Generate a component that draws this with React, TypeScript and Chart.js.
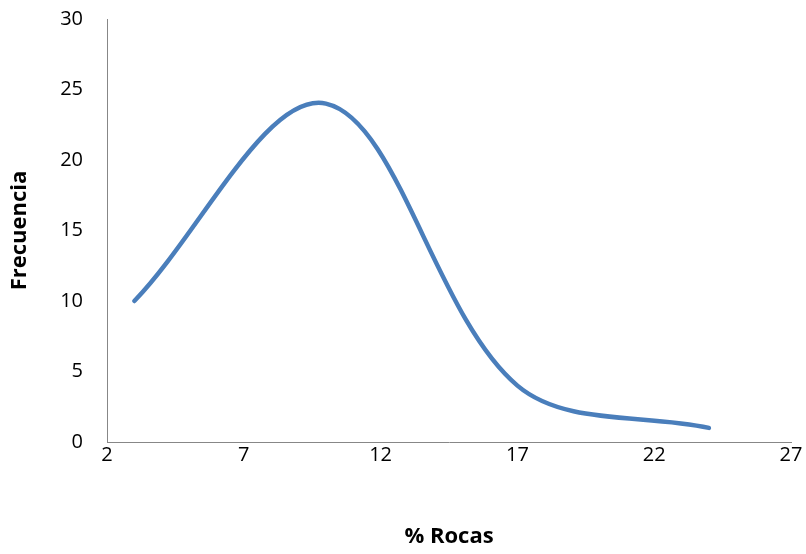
import React, { useEffect, useRef } from "react";
import { Chart, registerables } from "chart.js";

Chart.register(...registerables);

// Rock percentage class marks (class width 7) and their frequencies
const rocasPct = [3, 10, 17, 24];
const frecuencia = [10, 24, 4, 1];

const xTicks = { min: 2, max: 27, step: 5 };
const yTicks = { min: 0, max: 30, step: 5 };

const FONT = "'Open Sans', 'Noto Sans', sans-serif";
const AXIS_GREY = "#878787";

export default function App() {
  const canvasRef = useRef<HTMLCanvasElement | null>(null);

  useEffect(() => {
    document.body.style.margin = "0";
    const canvas = canvasRef.current;
    if (!canvas) return;

    const points = rocasPct.map((x, i) => ({ x, y: frecuencia[i] }));

    const chart = new Chart(canvas, {
      type: "scatter",
      data: {
        datasets: [
          {
            data: points,
            showLine: true,
            borderColor: "#4A7EBB",
            backgroundColor: "#4A7EBB",
            borderWidth: 4.5,
            borderCapStyle: "round",
            borderJoinStyle: "round",
            pointRadius: 0,
            pointHoverRadius: 0,
            tension: 0.34,
            clip: false,
          },
        ],
      },
      options: {
        animation: false,
        responsive: false,
        events: [],
        layout: { padding: { left: 0, right: 15, top: 19, bottom: 0 } },
        plugins: {
          legend: { display: false },
          tooltip: { enabled: false },
        },
        scales: {
          x: {
            type: "linear",
            min: xTicks.min,
            max: xTicks.max,
            grid: { display: false, drawTicks: false },
            border: { display: true, color: AXIS_GREY, width: 1 },
            ticks: {
              stepSize: xTicks.step,
              padding: 1,
              color: "#000",
              font: { family: FONT, size: 20 },
              maxRotation: 0,
            },
            title: {
              display: true,
              text: "% Rocas",
              color: "#000",
              font: { family: FONT, size: 22, weight: "bold" },
              padding: { top: 0, bottom: 4 },
            },
            afterFit: (scale: any) => {
              scale.height = 112;
            },
          },
          y: {
            type: "linear",
            min: yTicks.min,
            max: yTicks.max,
            grid: { display: false, drawTicks: false },
            border: { display: true, color: AXIS_GREY, width: 1 },
            ticks: {
              stepSize: yTicks.step,
              padding: 24,
              color: "#000",
              font: { family: FONT, size: 20 },
            },
            title: {
              display: true,
              text: "Frecuencia",
              color: "#000",
              font: { family: FONT, size: 22, weight: "bold" },
              padding: { top: 7, bottom: 0 },
            },
            afterFit: (scale: any) => {
              scale.width = 107;
              scale.paddingTop = 12;
              scale.paddingBottom = 12;
            },
          },
        },
      },
    });

    return () => chart.destroy();
  }, []);

  return (
    <div style={{ position: "absolute", left: 0, top: 0, width: 806, height: 554, background: "#fff" }}>
      <canvas ref={canvasRef} width={806} height={554} style={{ display: "block" }} />
    </div>
  );
}
